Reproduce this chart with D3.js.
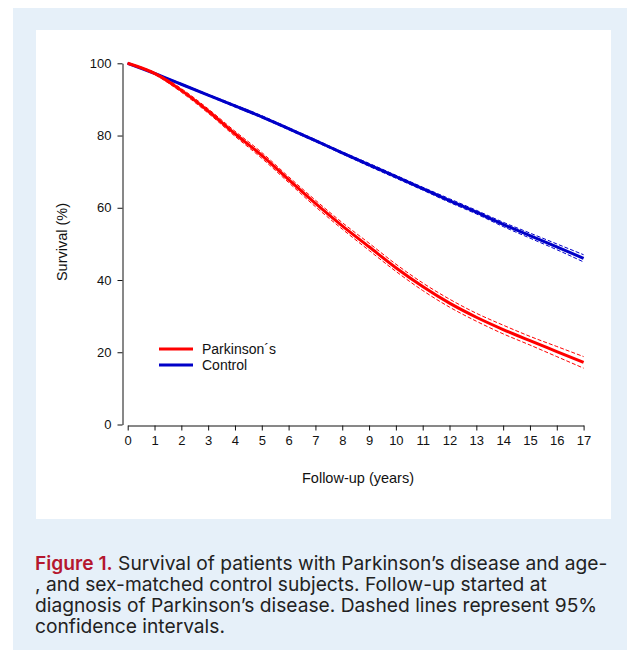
<!DOCTYPE html>
<html>
<head>
<meta charset="utf-8">
<script src="https://cdn.jsdelivr.net/npm/d3@7"></script>
<style>
  body { margin: 0; background: #fff; }
  svg { display: block; }
</style>
</head>
<body>
<div class="Chart"></div>
<script>
// follow-up years and survival (%)
const years = [0, 1, 2, 3, 4, 5, 6, 7, 8, 9, 10, 11, 12, 13, 14, 15, 16, 17]

const parkinson = [100, 97.2, 92.5, 86.8, 80.5, 74.5, 67.8, 61.2, 55.0, 49.2, 43.4, 38.2, 33.6, 29.7, 26.3, 23.2, 20.2, 17.2]
const parkinsonLow = [100, 96.9, 92.0, 86.2, 79.8, 73.7, 67.0, 60.3, 54.1, 48.2, 42.4, 37.1, 32.5, 28.6, 25.1, 22.0, 18.8, 15.6]
const parkinsonHigh = [100, 97.5, 93.0, 87.4, 81.2, 75.3, 68.6, 62.1, 55.9, 50.2, 44.4, 39.2, 34.7, 30.8, 27.5, 24.4, 21.6, 18.8]

const control = [100, 97.2, 94.2, 91.2, 88.2, 85.2, 81.9, 78.6, 75.2, 71.9, 68.6, 65.3, 62.0, 58.8, 55.4, 52.3, 49.2, 46.0]
const controlLow = [100, 97.1, 94.0, 91.0, 87.9, 84.9, 81.6, 78.3, 74.9, 71.5, 68.2, 64.9, 61.5, 58.3, 54.8, 51.6, 48.4, 45.0]
const controlHigh = [100, 97.3, 94.4, 91.4, 88.5, 85.5, 82.2, 78.9, 75.5, 72.3, 69.0, 65.7, 62.5, 59.3, 56.0, 53.0, 50.0, 47.0]

const yTicks = [0, 20, 40, 60, 80, 100]
const legendNames = ['Parkinson\u00b4s', 'Control']
const colors = ['#ff0000', '#0000c8']

const W = 627, H = 650
const chartFont = 'Liberation Sans, Arial, sans-serif'

let svg = d3.select('.Chart').append('svg')
  .attr('width', W)
  .attr('height', H)

// light blue frame and white panel
svg.append('rect')
  .attr('x', 13).attr('y', 8)
  .attr('width', W - 13).attr('height', H - 8)
  .attr('fill', '#e6f0f9')
svg.append('rect')
  .attr('x', 36).attr('y', 30)
  .attr('width', 575).attr('height', 489)
  .attr('fill', '#fff')

let xScale = d3.scaleLinear()
  .domain([0, 17])
  .range([127.7, 583.6])
let yScale = d3.scaleLinear()
  .domain([0, 100])
  .range([424.5, 63.3])

let xAxis = d3.axisBottom(xScale)
  .tickValues(years)
  .tickSize(5)
  .tickSizeOuter(0)
  .tickPadding(5)
let yAxis = d3.axisLeft(yScale)
  .tickValues(yTicks)
  .tickSize(5)
  .tickSizeOuter(0)
  .tickPadding(6)

svg.append('g')
  .attr('class', 'x-axis')
  .attr('transform', 'translate(0,425.5)')
  .call(xAxis)
svg.append('g')
  .attr('class', 'y-axis')
  .attr('transform', 'translate(122.5,0)')
  .call(yAxis)

svg.selectAll('.x-axis text, .y-axis text')
  .attr('font-family', chartFont)
  .attr('font-size', 13)
  .attr('fill', '#111')
svg.selectAll('.x-axis path, .x-axis line, .y-axis path, .y-axis line')
  .attr('stroke', '#111')

svg.append('text')
  .attr('x', 358).attr('y', 483)
  .attr('text-anchor', 'middle')
  .attr('font-family', chartFont)
  .attr('font-size', 14.5)
  .attr('fill', '#111')
  .text('Follow-up (years)')

svg.append('text')
  .attr('transform', 'translate(67,242) rotate(-90)')
  .attr('text-anchor', 'middle')
  .attr('font-family', chartFont)
  .attr('font-size', 14.5)
  .attr('fill', '#111')
  .text('Survival (%)')

let line = d3.line()
  .x((d, i) => xScale(years[i]))
  .y(d => yScale(d))
  .curve(d3.curveMonotoneX)

const series = [
  {main: control, low: controlLow, high: controlHigh, color: colors[1]},
  {main: parkinson, low: parkinsonLow, high: parkinsonHigh, color: colors[0]}
]

series.forEach(s => {
  svg.append('path')
    .attr('d', line(s.main))
    .attr('fill', 'none')
    .attr('stroke', s.color)
    .attr('stroke-width', 3)
  ;[s.low, s.high].forEach(ci => {
    svg.append('path')
      .attr('d', line(ci))
      .attr('fill', 'none')
      .attr('stroke', s.color)
      .attr('stroke-width', 1)
      .attr('stroke-dasharray', '4,2')
  })
})

// legend
let legend = svg.append('g')
  .attr('transform', 'translate(159,349)')
legendNames.forEach((name, i) => {
  legend.append('line')
    .attr('x1', 0).attr('x2', 34)
    .attr('y1', i * 16).attr('y2', i * 16)
    .attr('stroke', colors[i])
    .attr('stroke-width', 3)
  legend.append('text')
    .attr('x', 43).attr('y', i * 16 + 5)
    .attr('font-family', chartFont)
    .attr('font-size', 14)
    .attr('fill', '#111')
    .text(name)
})

// caption
const captionLines = [
  'Survival of patients with Parkinson\u2019s disease and age-',
  ', and sex-matched control subjects. Follow-up started at',
  'diagnosis of Parkinson\u2019s disease. Dashed lines represent 95%',
  'confidence intervals.'
]
let caption = svg.append('text')
  .attr('font-family', 'Inter, Noto Sans, sans-serif')
  .attr('font-size', 19.2)
  .attr('fill', '#222')
captionLines.forEach((t, i) => {
  let ts = caption.append('tspan')
    .attr('x', 35)
    .attr('y', 570 + i * 21)
  if (i === 0) {
    ts.append('tspan').attr('fill', '#b5172f').attr('font-weight', 600).text('Figure 1.')
    ts.append('tspan').text(' ' + t)
  } else {
    ts.text(t)
  }
})
</script>
</body>
</html>
